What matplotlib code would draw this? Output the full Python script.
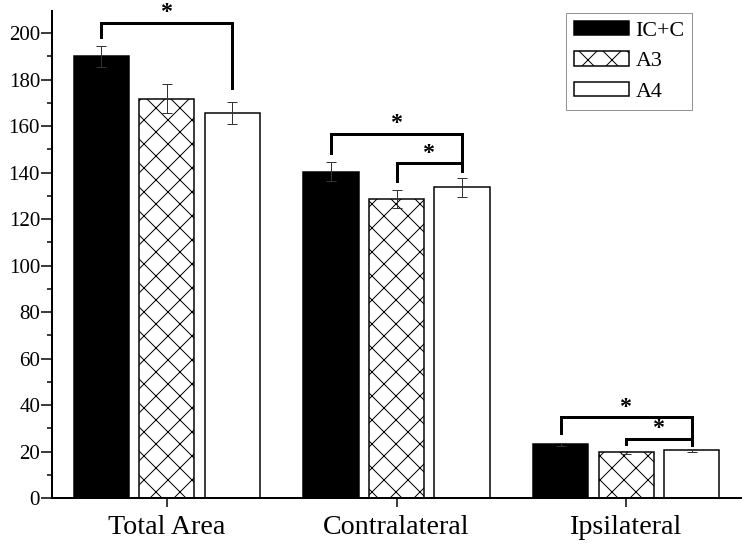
import numpy as np
import matplotlib
matplotlib.use('Agg')
import matplotlib.pyplot as plt
from matplotlib.ticker import MultipleLocator

plt.rcParams['font.family'] = ['Liberation Serif', 'DejaVu Serif']
plt.rcParams['hatch.color'] = '#555555'
plt.rcParams['hatch.linewidth'] = 1.0

groups = ['Total Area', 'Contralateral', 'Ipsilateral']
series = ['IC+C', 'A3', 'A4']
ic_c = [190.0, 140.4, 23.1]
a3 = [171.8, 128.6, 19.7]
a4 = [165.7, 133.6, 20.6]
ic_c_err = [4.5, 4.0, 0.6]
a3_err = [6.3, 3.9, 0.6]
a4_err = [4.6, 4.2, 0.6]

# significance brackets: (group, from bar, to bar, top y, left foot y, right foot y, star y)
brackets = [
    (0, 0, 2, 204.2, 198.4, 176.5, 208.8),
    (1, 0, 2, 156.6, 148.4, 140.6, 160.9),
    (1, 1, 2, 144.0, 136.3, 140.6, 148.0),
    (2, 0, 2, 34.8, 28.0, 22.8, 39.1),
    (2, 1, 2, 25.4, 23.2, 22.8, 29.7),
]

dpi = 72
fig = plt.figure(figsize=(750 / dpi, 545 / dpi), dpi=dpi)
ax = fig.add_axes([52 / 750, 1 - 498 / 545, (741 - 52) / 750, (498 - 11) / 545])

x = np.arange(len(groups))
step = 0.285
w = 0.24
vals = [ic_c, a3, a4]
errs = [ic_c_err, a3_err, a4_err]
faces = ['black', 'white', 'white']
hatches = [None, 'x', None]

for i in range(3):
    ax.bar(x + (i - 1) * step, vals[i], w, color=faces[i], edgecolor='black',
           linewidth=1.5, hatch=hatches[i], label=series[i], zorder=2)
    ax.errorbar(x + (i - 1) * step, vals[i], yerr=errs[i], fmt='none',
                ecolor='#333333', elinewidth=1, capsize=5, capthick=1, zorder=3)

for g, b0, b1, top, yl, yr, ys in brackets:
    xl = g + (b0 - 1) * step
    xr = g + (b1 - 1) * step
    ax.plot([xl, xl, xr, xr], [yl, top, top, yr], color='black', lw=3,
            solid_joinstyle='miter', clip_on=False, zorder=4)
    ax.text((xl + xr) / 2, ys, '*', ha='center', va='center', fontsize=24,
            fontweight='bold', clip_on=False)

ax.set_xlim(-0.5, 2.5)
ax.set_ylim(0, 209.5)
ax.set_xticks(x)
ax.set_xticklabels(groups, fontsize=28)
ax.yaxis.set_major_locator(MultipleLocator(20))
ax.yaxis.set_minor_locator(MultipleLocator(10))
ax.tick_params(axis='y', which='major', length=11, width=1.5, labelsize=21, pad=1)
ax.tick_params(axis='y', which='minor', length=5, width=1.5)
ax.tick_params(axis='x', length=9, width=1.5, pad=8)

for s in ['top', 'right']:
    ax.spines[s].set_visible(False)
for s in ['left', 'bottom']:
    ax.spines[s].set_linewidth(2)

leg = ax.legend(loc='upper left', bbox_to_anchor=(566 / 750, 1 - 13 / 545),
                bbox_transform=fig.transFigure, fontsize=22, frameon=True,
                fancybox=False, handlelength=2.5, handleheight=0.64,
                handletextpad=0.3, borderpad=0.35, labelspacing=0.48,
                borderaxespad=0)
leg.get_frame().set_edgecolor('#777777')
leg.get_frame().set_linewidth(1)

fig.savefig('out.png', dpi=dpi)
